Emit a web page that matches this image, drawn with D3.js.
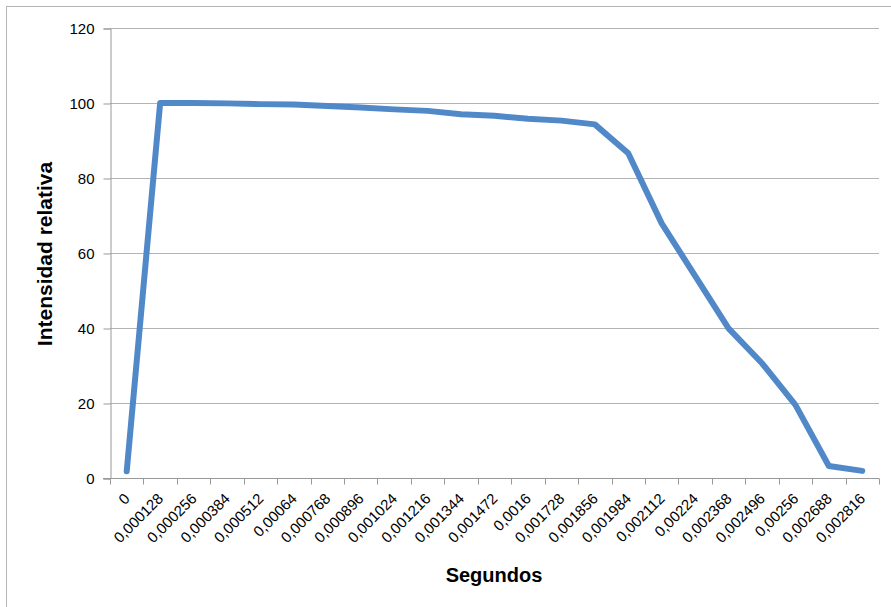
<!DOCTYPE html>
<html>
<head>
<meta charset="utf-8">
<script src="https://cdn.jsdelivr.net/npm/d3@7"></script>
<style>
  body { margin: 0; background: #fff; }
  svg { display: block; font-family: "Liberation Sans", Arial, sans-serif; }
</style>
</head>
<body>
<div id="chart"></div>
<script>
// x categories (time in seconds, as printed on the axis)
const segundos = ["0", "0,000128", "0,000256", "0,000384", "0,000512", "0,00064",
  "0,000768", "0,000896", "0,001024", "0,001216", "0,001344", "0,001472",
  "0,0016", "0,001728", "0,001856", "0,001984", "0,002112", "0,00224",
  "0,002368", "0,002496", "0,00256", "0,002688", "0,002816"];

// relative intensity per category
const intensidad = [1.8, 100, 100, 99.9, 99.7, 99.6, 99.2, 98.8, 98.3, 97.9,
  97.0, 96.6, 95.8, 95.3, 94.3, 86.6, 67.9, 53.9, 39.9, 30.6, 19.5, 3.2, 1.9];

const yTicks = [0, 20, 40, 60, 80, 100, 120];

const width = 891,
      height = 607,
      margin = {top: 28, right: 12, bottom: 129, left: 110};

const svg = d3.select("#chart")
  .append("svg")
  .attr("width", width)
  .attr("height", height);

// outer chart border
svg.append("rect")
  .attr("x", 6.5).attr("y", 6.5)
  .attr("width", 900).attr("height", 700)
  .attr("fill", "none")
  .attr("stroke", "#b4b4b4");

const x = d3.scaleBand()
  .domain(segundos)
  .range([margin.left, width - margin.right]);

const y = d3.scaleLinear()
  .domain([0, 120])
  .range([height - margin.bottom, margin.top]);

// gridlines
svg.append("g")
  .selectAll("line")
  .data(yTicks.filter(d => d > 0))
  .enter()
  .append("line")
  .attr("x1", margin.left)
  .attr("x2", width - margin.right)
  .attr("y1", d => Math.round(y(d)) + 0.5)
  .attr("y2", d => Math.round(y(d)) + 0.5)
  .attr("stroke", "#b3b3b3");

// y axis
const yAxis = svg.append("g")
  .attr("transform", `translate(${margin.left + 0.5}, 0.5)`)
  .call(d3.axisLeft(y).tickValues(yTicks).tickSize(7).tickPadding(9));
yAxis.select(".domain").attr("stroke", "#999");
yAxis.selectAll(".tick line").attr("stroke", "#999");
yAxis.selectAll("text").style("font-size", "15px").attr("fill", "#000");

// x axis with ticks between categories
const xAxis = svg.append("g")
  .attr("transform", `translate(0, ${Math.round(y(0)) + 0.5})`);
xAxis.append("line")
  .attr("x1", margin.left - 7)
  .attr("x2", width - margin.right)
  .attr("stroke", "#999");
xAxis.selectAll(".tk")
  .data(segundos.concat([null]))
  .enter()
  .append("line")
  .attr("class", "tk")
  .attr("x1", (d, i) => Math.round(margin.left + i * x.step()) + 0.5)
  .attr("x2", (d, i) => Math.round(margin.left + i * x.step()) + 0.5)
  .attr("y1", 0).attr("y2", 6)
  .attr("stroke", "#999");
xAxis.selectAll("text")
  .data(segundos)
  .enter()
  .append("text")
  .attr("transform", d => `translate(${x(d) + x.bandwidth() / 2 + 4}, 21) rotate(-45)`)
  .attr("text-anchor", "end")
  .style("font-size", "15px")
  .text(d => d);

// line
const line = d3.line()
  .x((d, i) => x(segundos[i]) + x.bandwidth() / 2)
  .y(d => y(d));

svg.append("path")
  .datum(intensidad)
  .attr("d", line)
  .attr("fill", "none")
  .attr("stroke", "#5189c8")
  .attr("stroke-width", 6)
  .attr("stroke-linejoin", "round")
  .attr("stroke-linecap", "round");

// axis titles
svg.append("text")
  .attr("x", 494)
  .attr("y", 582)
  .attr("text-anchor", "middle")
  .style("font-size", "20px")
  .style("font-weight", "bold")
  .text("Segundos");

svg.append("text")
  .attr("transform", "translate(52, 254) rotate(-90)")
  .attr("text-anchor", "middle")
  .style("font-size", "21px")
  .style("font-weight", "bold")
  .text("Intensidad relativa");
</script>
</body>
</html>
